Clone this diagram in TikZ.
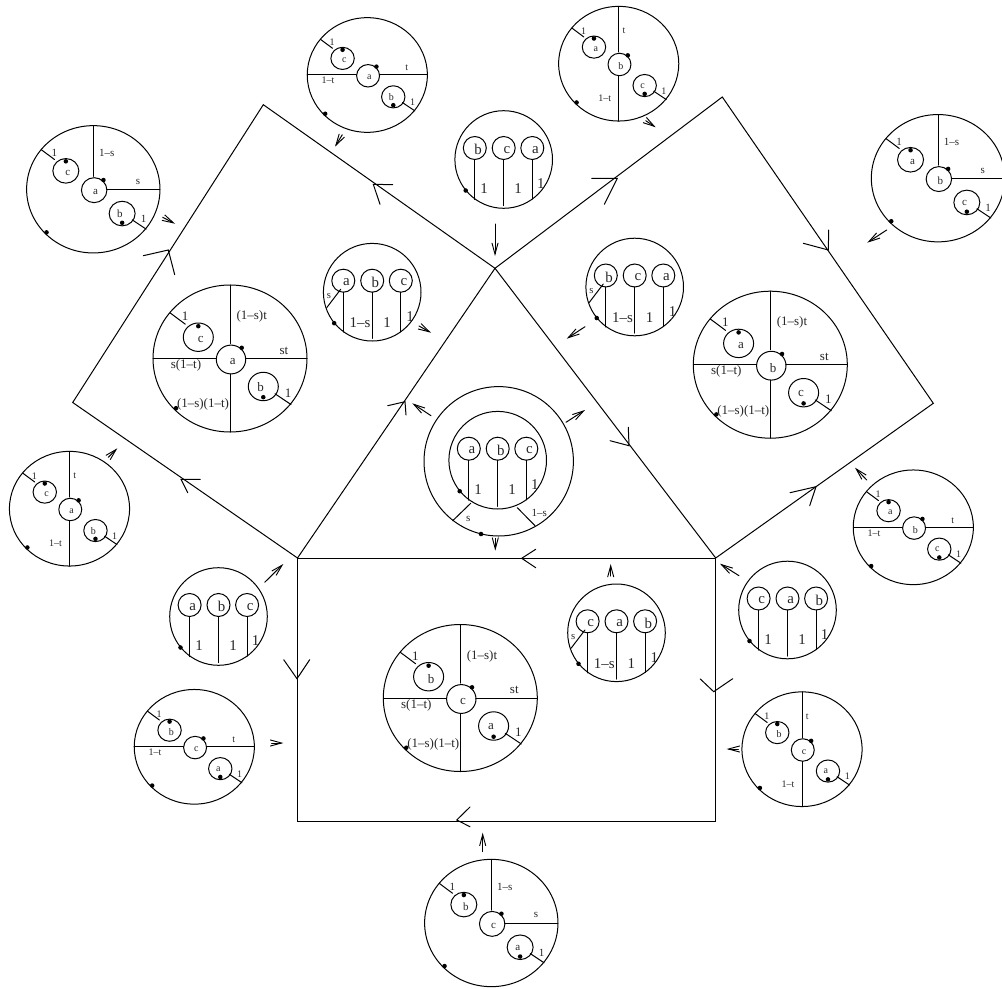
\documentclass[tikz,border=0pt]{standalone}
\usepackage{fontspec}
\setmainfont{Liberation Serif}
\usetikzlibrary{arrows.meta}
\newcounter{nc}
\newcommand\fs[1]{\fontsize{#1}{#1}\selectfont}
\def\curfont{\fs{10}}
\tikzset{
  x=0.75pt,y=-0.75pt,
  ln/.style={line width=0.75pt,black,line cap=round,line join=miter},
  txt/.style={font=\curfont,inner sep=0pt,text=black!85},
  dotn/.style={circle,fill=black,inner sep=0pt,minimum size=3.4pt},
  sarr/.style={ln,-{Straight Barb[length=8.5pt,width=4.6pt,line width=0.7pt]}},
}
\newcommand\lab[2]{\stepcounter{nc}\node[txt] (t\arabic{nc}) at (#1) {#2};}
\newcommand\dotat[1]{\stepcounter{nc}\node[dotn] (d\arabic{nc}) at (#1) {};}
\newcommand\sN{\draw[ln] (0,-73.5)--(0,-15);}
\newcommand\sE{\draw[ln] (15.5,0)--(77,0);}
\newcommand\sS{\draw[ln] (0,15.5)--(0,73.5);}
\newcommand\sW{\draw[ln] (-77,0)--(-14,0);}
% #1 centre letter, #2 upper-left loop, #3 lower-right loop, #4 cx,cy, #5 scale, #6 font, #7 spokes, #8 labels
\newcommand\cell[8]{%
\begin{scope}[shift={(#4)}]
\def\curfont{\fs{#6}}
\begin{scope}[scale=#5]
\draw[ln] (0,0) ellipse [x radius=77,y radius=73.5];
#7
\draw[ln] (1,1) ellipse [x radius=14.7,y radius=14.4];
\draw[ln] (-31.7,-21.3) ellipse [x radius=15,y radius=14.2];
\draw[ln] (33.3,28) ellipse [x radius=15,y radius=14.2];
\draw[ln] (-60,-45.7)--(-44.7,-34.3);
\draw[ln] (45,35.3)--(61,46);
\lab{2.7,3.2}{#1}
\lab{-29.3,-19}{#2}
\lab{30.7,28.7}{#3}
\lab{-45,-42}{1}
\lab{58,34.7}{1}
\dotat{11.7,-10.7}
\dotat{-31.7,-32.3}
\dotat{33.3,38.7}
\dotat{-54,49.7}
\end{scope}
#8
\end{scope}}
% three lollipops, #1 #2 #3 letters
\newcommand\lolli[3]{%
\def\curfont{\fs{11.2}}
\foreach \x/\e/\l in {-28.9/40/#1,0/46.2/#2,28.6/39.6/#3}{
  \draw[ln] (\x,0)--(\x,\e);
  \draw[ln] (\x,-11.5) circle [radius=11.5];
  \lab{\x+3.2,-9.8}{\l}
}
\dotat{-38,31}
}
\newcommand\plain[4]{%
\begin{scope}[shift={(#1)}]
\draw[ln] (0,0) circle [radius=48.8];
\lolli{#2}{#3}{#4}
\lab{-19.5,29.5}{1}\lab{14.5,29.5}{1}\lab{37.2,24.2}{1}
\end{scope}}
\newcommand\withs[4]{%
\begin{scope}[shift={(#1)}]
\draw[ln] (0,0) circle [radius=48.8];
\lolli{#2}{#3}{#4}
\draw[ln] (-45.5,15.5)--(-31.5,-2.9);
\lab{-12.2,30.5}{1–s}\lab{14.8,30.5}{1}\lab{37.8,24.5}{1}
\def\curfont{\fs{8}}\lab{-43.2,3.8}{s}
\end{scope}}
% big open arrowhead: barb, tip, barb
\newcommand\tick[4]{%
\coordinate (#1t) at (#2);\coordinate (#1a) at (#3);\coordinate (#1b) at (#4);
\draw[ln] (#1a)--(#1t)--(#1b);}
\newcommand\sarrow[3]{%
\coordinate (#1s) at (#2);\coordinate (#1e) at (#3);
\draw[sarr] (#1s)--(#1e);}
\begin{document}
\begin{tikzpicture}
\useasboundingbox (0,0) rectangle (1002,988);
\begin{scope}
\clip (0,0) rectangle (1002,988);
% frame
\coordinate (L1) at (263.3,104.7);
\coordinate (L2) at (72.7,402.5);
\coordinate (BL) at (297.5,558);
\coordinate (AP) at (495,268.3);
\coordinate (R1) at (722.3,97);
\coordinate (R2) at (933.3,403.3);
\coordinate (BR) at (715.7,558);
\coordinate (RB) at (715.7,821.3);
\coordinate (RL) at (297.5,821.3);
\draw[ln] (AP)--(L1)--(L2)--(BL)--cycle;
\draw[ln] (AP)--(R1)--(R2)--(BR)--cycle;
\draw[ln] (BL)--(BR)--(RB)--(RL)--cycle;
% big arrowheads
\tick{k1}{373.3,184.3}{392.7,184.7}{380,204.3}
\tick{k2}{168.3,250}{143.3,255.7}{174.7,274.7}
\tick{k3}{181,479.3}{200.3,479.3}{187.7,492.7}
\tick{k4}{405,401.7}{387.7,405.7}{406,415}
\tick{k5}{617.3,178.3}{591.7,178.3}{604.3,204.3}
\tick{k6}{828.3,250}{803.3,243.3}{828.7,230}
\tick{k7}{629,445.7}{610,440.7}{628.3,427.3}
\tick{k8}{816,486.7}{790,492.7}{809.7,505.7}
\tick{k9}{521.7,558.3}{535.7,549.3}{535.7,567.7}
\tick{k10}{297,678.7}{283.7,659.7}{309.7,659.7}
\tick{k11}{713.7,691.7}{700.3,679}{732.7,678.7}
\tick{k12}{456.7,820}{470,807}{470,826.7}
% small arrows
\sarrow{a1}{162.7,217.3}{175,223.7}
\sarrow{a2}{342.3,134.7}{335,146.7}
\sarrow{a3}{495,224}{495,256}
\sarrow{a4}{419,326}{431,332.7}
\sarrow{a5}{431,415.7}{412.3,403.3}
\sarrow{a6}{566,422.3}{585,410}
\sarrow{a7}{495.3,538.3}{495.3,550.7}
\sarrow{a8}{645.7,120.7}{655.7,127.3}
\sarrow{a9}{886.7,230}{867.3,242.7}
\sarrow{a10}{585,326.7}{566.7,338.7}
\sarrow{a11}{866.7,480}{855,467.7}
\sarrow{a12}{739,575.7}{720,563.7}
\sarrow{a13}{610.7,576}{610.7,564}
\sarrow{a14}{738.3,749}{726.7,749}
\sarrow{a15}{482.7,851.7}{482.7,832.7}
\sarrow{a16}{271.7,743}{283.3,743}
\sarrow{a17}{264.7,582.3}{283.3,564}
\sarrow{a18}{108.3,457.3}{117.3,448.3}
% big four-spoke circles
\newcommand\qlabels{\lab{21.7,-42}{(1–s)t}\lab{54,-8}{st}\lab{-44,7}{s(1–t)}\lab{-27,46.3}{(1–s)(1–t)}}
\cell{a}{c}{b}{230,358.5}{1}{9.75}{\sN\sE\sS\sW}{\qlabels}
\cell{b}{a}{c}{770.3,364.7}{1}{9.75}{\sN\sE\sS\sW}{\qlabels}
\cell{c}{b}{a}{460.3,698}{1}{9.75}{\sN\sE\sS\sW}{\qlabels}
% medium circles
\newcommand\tlabels{\lab{13.4,-36}{1–s}\lab{44.7,-7.6}{s}}
\cell{a}{c}{b}{93.3,189.3}{0.866}{8.25}{\sN\sE}{\tlabels}
\cell{b}{a}{c}{938,178.2}{0.866}{8.25}{\sN\sE}{\tlabels}
\cell{c}{b}{a}{491.3,923}{0.866}{8.25}{\sN\sE}{\tlabels}
% small circles with horizontal spoke
\newcommand\hlabels{\lab{39.4,-7}{t}\lab{-39.3,5.7}{1–t}}
\cell{a}{c}{b}{367.3,75}{0.78}{7.5}{\sW\sE}{\hlabels}
\cell{b}{a}{c}{913.3,527.3}{0.78}{7.5}{\sW\sE}{\hlabels}
\cell{c}{b}{a}{194.3,746.8}{0.78}{7.5}{\sW\sE}{\hlabels}
% small circles with vertical spoke
\newcommand\vlabels{\lab{5.3,-32.7}{t}\lab{-14,35}{1–t}}
\cell{b}{a}{c}{618.7,63.7}{0.78}{7.5}{\sN\sS}{\vlabels}
\cell{a}{c}{b}{69.5,508.7}{0.78}{7.5}{\sN\sS}{\vlabels}
\cell{c}{b}{a}{802,749.2}{0.78}{7.5}{\sN\sS}{\vlabels}
% lollipop circles
\plain{218.5,616.5}{a}{b}{c}
\plain{503.7,159.5}{b}{c}{a}
\plain{787.5,610}{c}{a}{b}
\withs{372.2,292.2}{a}{b}{c}
\withs{634.7,287}{b}{c}{a}
\withs{616.5,632.8}{c}{a}{b}
% double circle
\plain{497.7,460.2}{a}{b}{c}
\coordinate (O) at (498.7,461.3);
\draw[ln] (O) circle [radius=74.7];
\coordinate (e1) at (452.7,520.7);\coordinate (e2) at (470.7,503.3);
\coordinate (e3) at (517.3,507.7);\coordinate (e4) at (535,525.7);
\draw[ln] (e1)--(e2);
\draw[ln] (e3)--(e4);
\def\curfont{\fs{8.25}}
\lab{468.3,519}{s}
\lab{539.3,513.3}{1–s}
\dotat{481,534}
\end{scope}
\end{tikzpicture}
\end{document}
